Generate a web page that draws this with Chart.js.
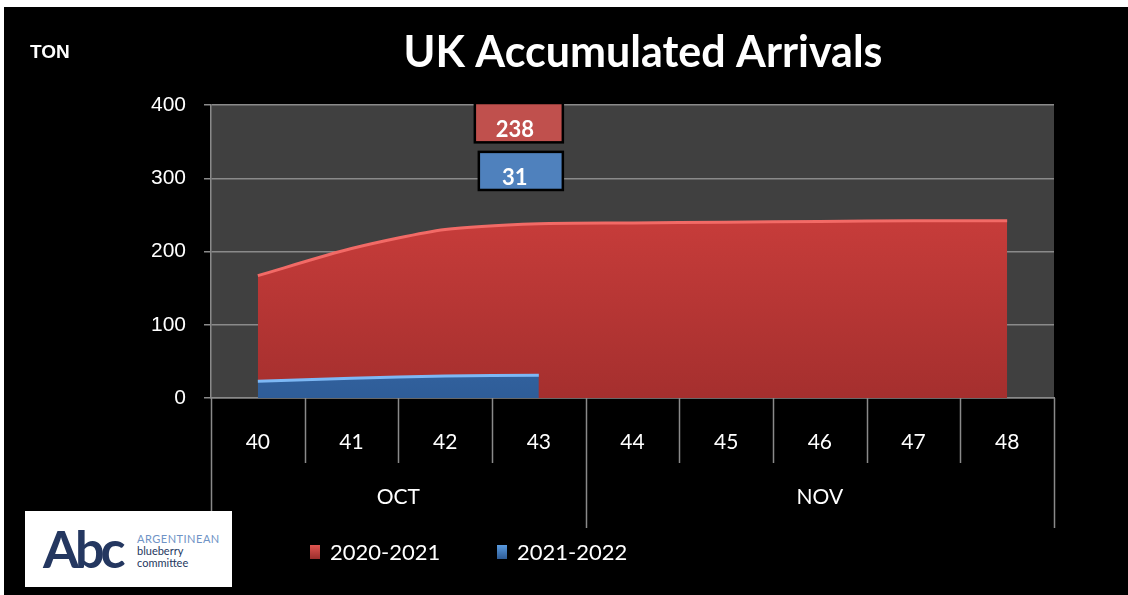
<!DOCTYPE html>
<html>
<head>
<meta charset="utf-8">
<script src="https://cdn.jsdelivr.net/npm/chart.js@4"></script>
<style>
  html, body { margin: 0; padding: 0; background: #fff; }
  #wrap { position: absolute; left: 4px; top: 7px; width: 1124px; height: 588px; background: #000; }
  #logo { position: absolute; left: 21px; top: 504px; width: 207px; height: 76px; background: #fff; }
  #logo .abc { position: absolute; left: 18px; top: 6px; font: bold 52px Lato, sans-serif; color: #243760; letter-spacing: -4px; }
  #logo .txt { position: absolute; left: 112px; top: 22px; font: 11px Lato, sans-serif; line-height: 12px; color: #243760; }
  #logo .txt span { color: #6f93c6; letter-spacing: 0.5px; }
</style>
</head>
<body>
<div id="wrap">
  <canvas id="chart" width="1124" height="588"></canvas>
  <div id="logo"><div class="abc">Abc</div><div class="txt"><span>ARGENTINEAN</span><br>blueberry<br>committee</div></div>
</div>
<script>
  const weeks = ["40", "41", "42", "43", "44", "45", "46", "47", "48"];
  const months = [
    { label: "OCT", from: 0, to: 3 },
    { label: "NOV", from: 4, to: 8 },
  ];
  const season2020 = [167, 204, 230, 238, 239, 240, 241, 242, 242];
  const season2021 = [23, 27, 30, 31, null, null, null, null, null];
  const labels2020 = { index: 3, text: "238" };
  const labels2021 = { index: 3, text: "31" };
  const yTicks = [0, 100, 200, 300, 400];

  const gridColor = "#8a8a8a";

  function areaGradient(ctx, top, bottom) {
    const chart = ctx.chart;
    const area = chart.chartArea;
    if (!area) return top;
    const g = chart.ctx.createLinearGradient(0, area.top, 0, area.bottom);
    g.addColorStop(0, top);
    g.addColorStop(1, bottom);
    return g;
  }

  // custom drawing: plot background, title, month row, data label boxes, legend
  const decor = {
    id: "decor",
    beforeDraw(chart) {
      const { ctx, chartArea: a } = chart;
      ctx.save();
      ctx.fillStyle = "#404040";
      ctx.fillRect(a.left, a.top, a.right - a.left, a.bottom - a.top);
      ctx.restore();
    },
    afterDraw(chart) {
      const { ctx, chartArea: a } = chart;
      const x = chart.scales.x;
      const y = chart.scales.y;
      ctx.save();
      // title
      ctx.fillStyle = "#fff";
      ctx.textAlign = "center";
      ctx.textBaseline = "middle";
      ctx.font = "bold 43px Lato, sans-serif";
      ctx.fillText("UK Accumulated Arrivals", 639, 46);
      ctx.textAlign = "left";
      ctx.font = "bold 19px 'Liberation Sans', Arial, sans-serif";
      ctx.fillText("TON", 26, 46);

      // category separators and month row
      const step = (x.getPixelForValue(1) - x.getPixelForValue(0));
      ctx.strokeStyle = gridColor;
      ctx.lineWidth = 1.5;
      for (let i = 1; i < weeks.length; i++) {
        const px = Math.round(x.getPixelForValue(i) - step / 2) + 0.5;
        const isMonth = months.some(m => m.from === i);
        ctx.beginPath();
        ctx.moveTo(px, a.bottom);
        ctx.lineTo(px, a.bottom + (isMonth ? 130 : 65));
        ctx.stroke();
      }
      [a.left, a.right].forEach(px => {
        ctx.beginPath();
        ctx.moveTo(Math.round(px) + 0.5, a.bottom);
        ctx.lineTo(Math.round(px) + 0.5, a.bottom + 130);
        ctx.stroke();
      });
      ctx.fillStyle = "#fff";
      ctx.textAlign = "center";
      ctx.font = "21px Lato, sans-serif";
      months.forEach(m => {
        const cx = (x.getPixelForValue(m.from) + x.getPixelForValue(m.to)) / 2;
        ctx.fillText(m.label, cx, a.bottom + 99);
      });

      // data label boxes
      function box(lbl, color, yTop, yBot, left, right) {
        const px = x.getPixelForValue(lbl.index);
        ctx.fillStyle = color;
        ctx.fillRect(px + left, yTop, right - left, yBot - yTop);
        ctx.strokeStyle = "#000";
        ctx.lineWidth = 2.5;
        ctx.strokeRect(px + left, yTop, right - left, yBot - yTop);
        ctx.fillStyle = "#fff";
        ctx.font = "bold 22px Lato, sans-serif";
        ctx.textAlign = "center";
        ctx.fillText(lbl.text, px - 24, yBot - 12);
      }
      box(labels2020, "#c0504d", y.getPixelForValue(400) - 2, y.getPixelForValue(349), -64, 24);
      box(labels2021, "#4f81bd", y.getPixelForValue(336), y.getPixelForValue(284), -60, 24);

      // legend
      ctx.font = "22px Lato, sans-serif";
      ctx.textAlign = "left";
      const items = [
        { x: 306, c1: "#e05550", c2: "#9a2e2c", ds: 1 },
        { x: 493, c1: "#5a9be0", c2: "#2d5b95", ds: 0 },
      ];
      items.forEach(it => {
        const g = ctx.createLinearGradient(0, 538, 0, 552);
        g.addColorStop(0, it.c1);
        g.addColorStop(1, it.c2);
        ctx.fillStyle = g;
        ctx.fillRect(it.x, 538, 10, 14);
        ctx.fillStyle = "#fff";
        ctx.fillText(chart.data.datasets[it.ds].label, it.x + 20, 546);
      });
      ctx.restore();
    }
  };

  new Chart(document.getElementById("chart"), {
    type: "line",
    data: {
      labels: weeks,
      datasets: [
        {
          label: "2021-2022",
          data: season2021,
          fill: "origin",
          backgroundColor: ctx => areaGradient(ctx, "#4a8ad6", "#2f5d98"),
          borderColor: "#7db8f5",
          borderWidth: 3,
          pointRadius: 0,
          tension: 0.2,
          order: 0,
        },
        {
          label: "2020-2021",
          data: season2020,
          fill: "origin",
          backgroundColor: ctx => areaGradient(ctx, "#dc4542", "#a52f2e"),
          borderColor: "#f26a66",
          borderWidth: 3,
          pointRadius: 0,
          tension: 0.25,
          order: 1,
        },
      ],
    },
    options: {
      responsive: false,
      animation: false,
      layout: { padding: { left: 0, right: 74, top: 98, bottom: 57 } },
      scales: {
        x: {
          offset: true,
          grid: { display: false },
          border: { display: true, color: gridColor, width: 1.5 },
          ticks: { color: "#fff", font: { family: "Lato", size: 21 }, padding: 24 },
          afterFit(scale) { scale.height = 140; },
        },
        y: {
          min: 0,
          max: 400,
          afterBuildTicks(scale) { scale.ticks = yTicks.map(v => ({ value: v })); },
          grid: { color: gridColor, lineWidth: 1.5, tickLength: 7 },
          border: { display: true, color: gridColor, width: 1.5 },
          ticks: { color: "#fff", font: { family: "'Liberation Sans', Arial", size: 21 }, padding: 18 },
          afterFit(scale) { scale.width = 207; },
        },
      },
      plugins: {
        legend: { display: false },
        title: { display: false },
        tooltip: { enabled: false },
      },
    },
    plugins: [decor],
  });
</script>
</body>
</html>
